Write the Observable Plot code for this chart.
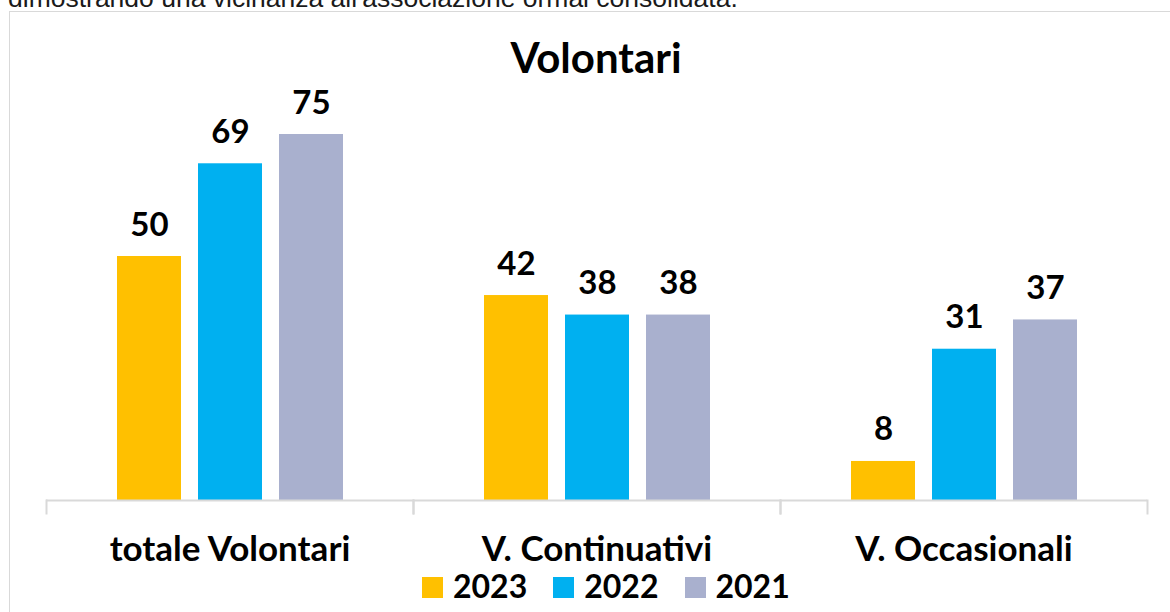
<!DOCTYPE html>
<html>
<head>
<meta charset="utf-8">
<script src="https://cdn.jsdelivr.net/npm/d3@7"></script>
<script src="https://cdn.jsdelivr.net/npm/@observablehq/plot@0.6"></script>
<style>
html,body{margin:0;padding:0;background:#fff;width:1170px;height:612px;overflow:hidden;}
#page{position:relative;width:1170px;height:612px;overflow:hidden;font-family:Lato,"Open Sans",sans-serif;}
#intro{position:absolute;left:8px;top:-15.5px;font-family:"Liberation Sans",Arial,sans-serif;font-size:26.5px;line-height:26.5px;color:#1a1a1a;white-space:nowrap;}
#box{position:absolute;left:9px;top:11px;width:1220px;height:700px;border:1.5px solid #d9d9d9;box-sizing:border-box;}
#title{position:absolute;left:0;width:1192px;text-align:center;top:36px;font-weight:700;font-size:42px;line-height:42px;color:#000;}
#chart{position:absolute;left:0;top:0;}
#legend{position:absolute;left:422px;top:569.6px;font-weight:700;font-size:32px;line-height:32px;color:#000;white-space:nowrap;}
#legend .item{display:inline-block;margin-right:26px;}
#legend .sw{display:inline-block;width:21px;height:21px;margin-right:10px;vertical-align:baseline;}
</style>
</head>
<body>
<div id="page">
  <div id="intro">dimostrando una vicinanza all'associazione ormai consolidata.</div>
  <div id="box"></div>
  <div id="title">Volontari</div>
  <div id="chart"></div>
  <div id="legend"></div>
</div>
<script>
const categories = ["totale Volontari", "V. Continuativi", "V. Occasionali"];
const years = ["2023", "2022", "2021"];
const v2023 = [50, 42, 8];
const v2022 = [69, 38, 31];
const v2021 = [75, 38, 37];
const colors = ["#FFC000", "#00B0F0", "#A9B0CE"];

const series = [v2023, v2022, v2021];
const data = categories.flatMap((c, i) =>
  years.map((y, j) => ({category: c, year: y, value: series[j][i]}))
);

const axisGray = "#d9d9d9";

const chart = Plot.plot({
  width: 1170,
  height: 612,
  marginLeft: 45,
  marginRight: 22,
  marginTop: 134,
  marginBottom: 99,
  style: {fontFamily: "Lato, 'Open Sans', sans-serif", background: "transparent", overflow: "visible"},
  fx: {domain: categories, padding: 0, label: null},
  x: {domain: years, paddingInner: 0.215, paddingOuter: 0.863, axis: null},
  y: {domain: [0, 75], range: [500, 134], axis: null},
  color: {domain: years, range: colors},
  marks: [
    Plot.barY(data, {fx: "category", x: "year", y: "value", fill: "year"}),
    Plot.text(data, {
      fx: "category", x: "year", y: "value",
      text: d => String(d.value),
      lineAnchor: "bottom", dy: -21,
      fontSize: 33, fontWeight: 700, fill: "#000"
    }),
    Plot.ruleY([0], {stroke: axisGray, strokeWidth: 2}),
    Plot.frame({anchor: "left", insetTop: 366, stroke: axisGray, strokeWidth: 2}),
    Plot.frame({anchor: "right", insetTop: 366, stroke: axisGray, strokeWidth: 2}),
    Plot.axisFx({
      anchor: "bottom", tickSize: 0, tickPadding: 23,
      fontSize: 35, fontWeight: 700, label: null, color: "#000"
    })
  ]
});
document.getElementById("chart").appendChild(chart);

const legend = document.getElementById("legend");
years.forEach((y, i) => {
  const item = document.createElement("span");
  item.className = "item";
  const sw = document.createElement("span");
  sw.className = "sw";
  sw.style.background = colors[i];
  item.appendChild(sw);
  item.appendChild(document.createTextNode(y));
  legend.appendChild(item);
});
</script>
</body>
</html>
